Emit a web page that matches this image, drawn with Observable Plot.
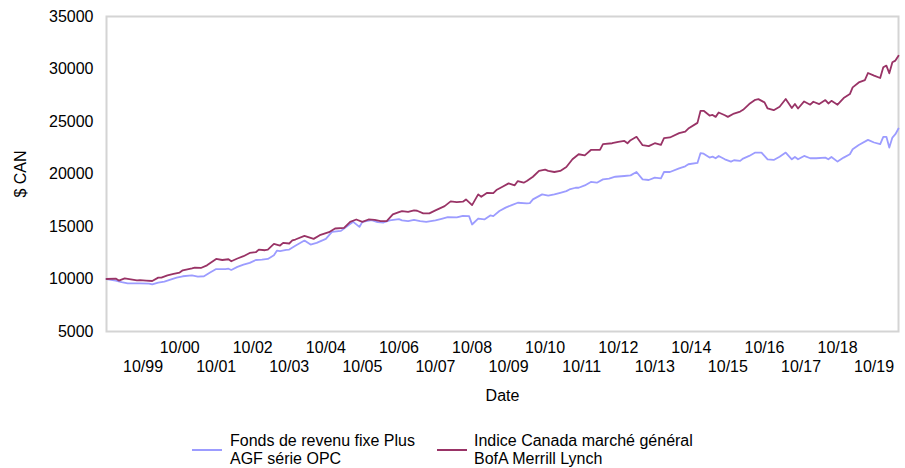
<!DOCTYPE html>
<html><head><meta charset="utf-8">
<script src="https://cdn.jsdelivr.net/npm/d3@7"></script>
<script src="https://cdn.jsdelivr.net/npm/@observablehq/plot@0.6"></script>
<style>
body{margin:0;background:#fff;font-family:"Liberation Sans",Arial,sans-serif;}
#wrap{position:relative;width:905px;height:468px;overflow:hidden;}
.sw{position:absolute;height:2px;width:30px;}
.txt{position:absolute;font-size:16px;line-height:18px;color:#000;white-space:nowrap;}
</style></head><body>
<div id="wrap"><div id="chart"></div></div>
<script>
const seriesNames = ["Fonds de revenu fixe Plus AGF série OPC", "Indice Canada marché général BofA Merrill Lynch"];
const seriesLegendLines = [["Fonds de revenu fixe Plus", "AGF série OPC"], ["Indice Canada marché général", "BofA Merrill Lynch"]];
const seriesColors = ["#9c9cff", "#993366"];
const yTicks = [5000, 10000, 15000, 20000, 25000, 30000, 35000];
const xTickYears = [1999,2000,2001,2002,2003,2004,2005,2006,2007,2008,2009,2010,2011,2012,2013,2014,2015,2016,2017,2018,2019];

const fundDates = ["1998-10","1999-01","1999-03","1999-05","1999-07","1999-09","1999-12","2000-01","2000-03","2000-05","2000-07","2000-09","2000-11","2001-02","2001-04","2001-06","2001-08","2001-10","2002-01","2002-02","2002-03","2002-05","2002-07","2002-09","2002-11","2003-01","2003-03","2003-05","2003-06","2003-07","2003-09","2003-10","2003-12","2004-03","2004-05","2004-07","2004-10","2004-12","2005-03","2005-05","2005-07","2005-09","2005-10","2006-01","2006-03","2006-05","2006-07","2006-10","2006-11","2007-01","2007-03","2007-05","2007-07","2007-10","2007-12","2008-02","2008-05","2008-07","2008-09","2008-10","2008-12","2009-02","2009-04","2009-05","2009-07","2009-09","2009-11","2010-01","2010-04","2010-05","2010-06","2010-09","2010-11","2011-01","2011-03","2011-05","2011-06","2011-08","2011-09","2011-11","2012-01","2012-03","2012-05","2012-07","2012-09","2012-12","2013-02","2013-04","2013-06","2013-08","2013-10","2013-12","2014-01","2014-03","2014-06","2014-08","2014-09","2014-12","2015-01","2015-02","2015-04","2015-05","2015-06","2015-07","2015-09","2015-11","2015-12","2016-02","2016-03","2016-05","2016-07","2016-09","2016-11","2017-01","2017-03","2017-05","2017-07","2017-08","2017-09","2017-11","2018-01","2018-03","2018-06","2018-07","2018-08","2018-10","2018-12","2019-02","2019-03","2019-05","2019-08","2019-10","2019-12","2020-01","2020-02","2020-03","2020-04","2020-05","2020-06"];
const fundValues = [10000,9850,9710,9590,9590,9590,9560,9490,9650,9750,9940,10130,10260,10350,10230,10260,10610,10950,10950,10980,10860,11150,11370,11530,11810,11840,11910,12260,12710,12650,12770,12800,13170,13660,13280,13440,13820,14490,14580,15030,15440,14960,15440,15610,15410,15380,15580,15700,15580,15510,15640,15510,15440,15580,15730,15890,15860,16020,15990,15190,15760,15670,16050,15990,16470,16800,17040,17260,17200,17230,17580,18060,17940,18060,18210,18370,18530,18690,18690,18910,19240,19170,19490,19560,19740,19810,19870,20190,19490,19430,19650,19590,20190,20190,20540,20730,20930,21050,21990,21940,21560,21650,21500,21720,21400,21180,21310,21250,21470,21720,22040,22040,21400,21340,21650,22040,21400,21620,21400,21720,21500,21500,21560,21400,21620,21180,21560,21880,22360,22770,23250,23000,22840,23540,23540,22520,23470,23790,24330];

const indexDates = ["1998-10","1999-01","1999-02","1999-04","1999-06","1999-08","1999-09","1999-11","2000-01","2000-03","2000-04","2000-06","2000-08","2000-10","2000-11","2001-02","2001-03","2001-05","2001-07","2001-10","2001-12","2002-02","2002-03","2002-05","2002-07","2002-09","2002-11","2002-12","2003-02","2003-03","2003-05","2003-07","2003-08","2003-10","2003-11","2003-12","2004-03","2004-06","2004-08","2004-11","2005-01","2005-04","2005-06","2005-08","2005-10","2005-12","2006-02","2006-04","2006-06","2006-08","2006-10","2006-11","2007-01","2007-03","2007-04","2007-06","2007-08","2007-10","2008-01","2008-03","2008-05","2008-07","2008-08","2008-10","2008-12","2009-01","2009-03","2009-05","2009-06","2009-08","2009-10","2009-12","2010-01","2010-03","2010-04","2010-06","2010-08","2010-10","2010-11","2011-01","2011-03","2011-05","2011-07","2011-09","2011-11","2012-01","2012-04","2012-05","2012-08","2012-10","2012-12","2013-01","2013-02","2013-04","2013-06","2013-08","2013-10","2013-12","2014-01","2014-03","2014-06","2014-08","2014-09","2014-12","2015-01","2015-02","2015-04","2015-05","2015-06","2015-07","2015-09","2015-10","2015-12","2016-02","2016-03","2016-05","2016-07","2016-08","2016-10","2016-11","2017-01","2017-03","2017-05","2017-07","2017-08","2017-09","2017-11","2018-01","2018-02","2018-04","2018-06","2018-07","2018-08","2018-10","2018-12","2019-02","2019-03","2019-05","2019-07","2019-08","2019-10","2019-12","2020-01","2020-02","2020-03","2020-04","2020-05","2020-06"];
const indexValues = [10000,10040,9850,10065,9970,9870,9900,9850,9810,10130,10130,10350,10480,10610,10830,11020,11090,11050,11300,11910,11810,11880,11690,11950,12170,12480,12550,12800,12740,12800,13340,13190,13440,13380,13670,13760,14110,13820,14170,14460,14810,14870,15440,15670,15440,15670,15640,15510,15510,16150,16370,16470,16400,16530,16500,16250,16250,16530,16940,17390,17330,17360,17580,17040,18060,17830,18210,18180,18470,18790,19110,18920,19330,19170,19330,19740,20290,20410,20290,20190,20290,20670,21400,21880,21780,22290,22290,22840,22930,23060,23150,22930,23220,23540,22740,22650,22930,22770,23410,23480,23890,24040,24330,24870,26020,26020,25570,25630,25440,25860,25600,25440,25760,25950,26110,26660,27070,27130,26820,26240,26080,26400,27140,26280,26660,26240,26910,26600,26880,26660,27040,26720,26970,26600,27230,27610,28250,28720,28940,29620,29370,29140,30160,30320,29590,30640,30800,31270];

const parse = d3.utcParse("%Y-%m");
const fund = fundDates.map((d, i) => ({date: parse(d), value: fundValues[i], series: seriesNames[0]}));
const index = indexDates.map((d, i) => ({date: parse(d), value: indexValues[i], series: seriesNames[1]}));
const evenTicks = xTickYears.filter(y => y % 2 === 0).map(y => new Date(Date.UTC(y, 9, 1)));
const oddTicks = xTickYears.filter(y => y % 2 === 1).map(y => new Date(Date.UTC(y, 9, 1)));

const chart = Plot.plot({
  width: 905, height: 410,
  marginTop: 16, marginLeft: 106, marginRight: 7, marginBottom: 79,
  x: {type: "utc", domain: [parse("1998-10"), parse("2020-06")]},
  y: {domain: [5000, 35000]},
  style: {fontFamily: "'Liberation Sans', Arial, sans-serif", fontSize: "16px", color: "#000", background: "#fff"},
  marks: [
    Plot.frame({stroke: "#d4d4d4", strokeWidth: 2}),
    Plot.axisY({ticks: yTicks, tickSize: 0, tickPadding: 13, tickFormat: d => String(d),
      label: "$ CAN", labelAnchor: "center", labelArrow: "none", labelOffset: 92}),
    Plot.axisX({ticks: evenTicks, tickSize: 0, tickPadding: 10, tickFormat: d3.utcFormat("%m/%y"), label: null}),
    Plot.axisX({ticks: oddTicks, tickSize: 0, tickPadding: 29, tickFormat: d3.utcFormat("%m/%y"),
      label: "Date", labelAnchor: "center", labelArrow: "none", labelOffset: 69}),
    Plot.line(fund, {x: "date", y: "value", stroke: seriesColors[0], strokeWidth: 1.8}),
    Plot.line(index, {x: "date", y: "value", stroke: seriesColors[1], strokeWidth: 1.8})
  ]
});
document.getElementById("chart").appendChild(chart);

const wrap = document.getElementById("wrap");
const legendPos = [{sw: 192, tx: 230}, {sw: 437, tx: 474}];
seriesLegendLines.forEach((lines, i) => {
  const sw = document.createElement("div");
  sw.className = "sw";
  sw.style.left = legendPos[i].sw + "px";
  sw.style.top = "449px";
  sw.style.background = seriesColors[i];
  wrap.appendChild(sw);
  const tx = document.createElement("div");
  tx.className = "txt";
  tx.style.left = legendPos[i].tx + "px";
  tx.style.top = "432px";
  tx.innerHTML = lines.join("<br>");
  wrap.appendChild(tx);
});
</script>
</body></html>
